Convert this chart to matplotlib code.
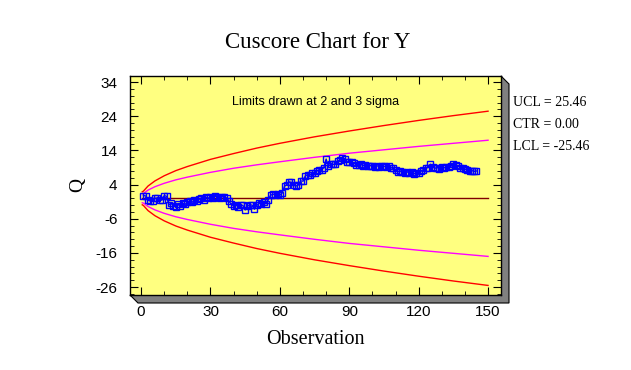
import numpy as np
import matplotlib.pyplot as plt
from matplotlib.patches import Polygon
from matplotlib.ticker import MultipleLocator

plt.rcParams['axes.unicode_minus'] = False

q_values = [
    0.8, 0.7, -0.6, -0.8, -0.7, 0.0, 0.1, -0.6, -0.5, 0.8,
    0.6, -1.9, -1.5, -2.2, -2.5, -1.8, -2.3, -1.5, -1.8, -1.1,
    -0.8, -1.2, -0.5, -0.9, -0.3, 0.1, -0.4, 0.3, 0.0, 0.5,
    0.2, 0.6, 0.4, 0.1, 0.5, 0.3, 0.1, -0.8, -1.8, -2.2,
    -2.0, -2.4, -1.9, -2.1, -3.4, -2.3, -1.9, -2.0, -3.2, -2.1,
    -1.4, -1.8, -1.2, -1.6, -0.4, 0.9, 1.2, 1.0, 1.3, 0.9,
    1.6, 3.5, 4.0, 4.8, 4.7, 3.8, 3.6, 3.9, 5.1, 5.0,
    6.6, 6.9, 6.8, 7.4, 7.3, 8.0, 8.4, 8.3, 9.0, 11.5,
    9.4, 10.0, 9.9, 10.1, 11.0, 11.1, 11.8, 11.6, 10.7, 10.6,
    10.5, 10.4, 9.8, 9.7, 9.9, 9.6, 9.8, 9.5, 9.6, 9.4,
    9.2, 9.5, 9.3, 9.6, 9.4, 9.1, 9.5, 9.0, 8.8, 8.4,
    7.8, 8.0, 7.6, 7.4, 7.8, 7.3, 7.6, 7.2, 7.5, 7.3,
    7.9, 8.4, 8.8, 9.0, 10.0, 9.2, 8.8, 9.0, 8.7, 9.1,
    8.9, 9.3, 9.1, 9.4, 10.1, 9.8, 9.5, 9.0, 8.9, 8.6,
    8.2, 8.0, 8.1, 7.9, 8.0,
]
observations = list(range(1, len(q_values) + 1))

# limit curves, read at a few observations
limit_obs = [0.5, 1, 3, 6, 10, 15, 20, 30, 40, 50, 60, 75, 90, 105, 120, 135, 150]
limit_3s = [1.9, 2.1, 3.6, 5.1, 6.6, 8.1, 9.3, 11.4, 13.1, 14.7, 16.1,
            18.0, 19.7, 21.3, 22.8, 24.2, 25.5]
limit_2s = [1.3, 1.4, 2.4, 3.4, 4.4, 5.4, 6.2, 7.6, 8.8, 9.8, 10.7,
            12.0, 13.2, 14.2, 15.2, 16.1, 17.0]

ucl, ctr, lcl = 25.46, 0.00, -25.46

serif = 'Liberation Serif'
sans = 'Liberation Sans'

fig = plt.figure(figsize=(6.31, 3.70), dpi=100)
W, H = 631, 370
x0, x1, y0, y1 = 130, 501, 76, 295  # plot box in pixels (top-left origin)

# grey 3D shadow behind the plot box
d = 8
shadow = Polygon([(x1 / W, 1 - y0 / H), ((x1 + d) / W, 1 - (y0 + d) / H),
                  ((x1 + d) / W, 1 - (y1 + d) / H), ((x0 + d) / W, 1 - (y1 + d) / H),
                  (x0 / W, 1 - y1 / H), (x1 / W, 1 - y1 / H)],
                 closed=True, transform=fig.transFigure, facecolor='#808080',
                 edgecolor='black', linewidth=0.8, zorder=-5)
fig.patches.append(shadow)

ax = fig.add_axes([x0 / W, 1 - y1 / H, (x1 - x0) / W, (y1 - y0) / H])
ax.set_zorder(1)
ax.set_facecolor('#FFFF80')

ax.plot(limit_obs, limit_3s, color='#FF0000', lw=1)
ax.plot(limit_obs, [-v for v in limit_3s], color='#FF0000', lw=1)
ax.plot(limit_obs, limit_2s, color='#FF00FF', lw=1)
ax.plot(limit_obs, [-v for v in limit_2s], color='#FF00FF', lw=1)
ax.plot([0.5, 150], [ctr, ctr], color='#800000', lw=1)
ax.plot(observations, q_values, color='#0000FF', lw=1, marker='s', ms=4.5,
        mfc='none', mec='#0000FF', mew=1)

ax.set_xlim(-4.8, 155.6)
ax.set_ylim(-28.3, 35.8)
ax.xaxis.set_major_locator(MultipleLocator(30))
ax.xaxis.set_minor_locator(MultipleLocator(10))
ax.yaxis.set_major_locator(plt.FixedLocator(np.arange(-26, 35, 10)))
ax.yaxis.set_minor_locator(plt.FixedLocator(np.arange(-28, 36, 2)))
ax.tick_params(which='both', direction='in', top=True, right=True, labelsize=11)
ax.tick_params(which='major', length=6)
ax.tick_params(which='minor', length=3)
ax.tick_params(axis='x', which='major', pad=7)
ax.tick_params(axis='y', which='major', pad=9)
for lab in ax.get_xticklabels() + ax.get_yticklabels():
    lab.set_fontfamily(sans)
for s in ax.spines.values():
    s.set_linewidth(1)

ax.set_xlabel('Observation', fontfamily=serif, fontsize=14.5, labelpad=8)
ax.set_ylabel('Q', fontfamily=serif, fontsize=14, labelpad=7)
fig.text(318 / W, 1 - 43 / H, 'Cuscore Chart for Y', fontfamily=serif,
         fontsize=16.5, ha='center', va='center')
ax.text(0.5, 0.88, 'Limits drawn at 2 and 3 sigma', transform=ax.transAxes,
        fontfamily=sans, fontsize=9, ha='center', va='center')

for i, txt in enumerate(['UCL = %.2f' % ucl, 'CTR = %.2f' % ctr, 'LCL = %.2f' % lcl]):
    fig.text(513 / W, 1 - (103 + 22 * i) / H, txt, fontfamily=serif,
             fontsize=10, ha='left', va='center')

fig.savefig('out.png', dpi=100)
